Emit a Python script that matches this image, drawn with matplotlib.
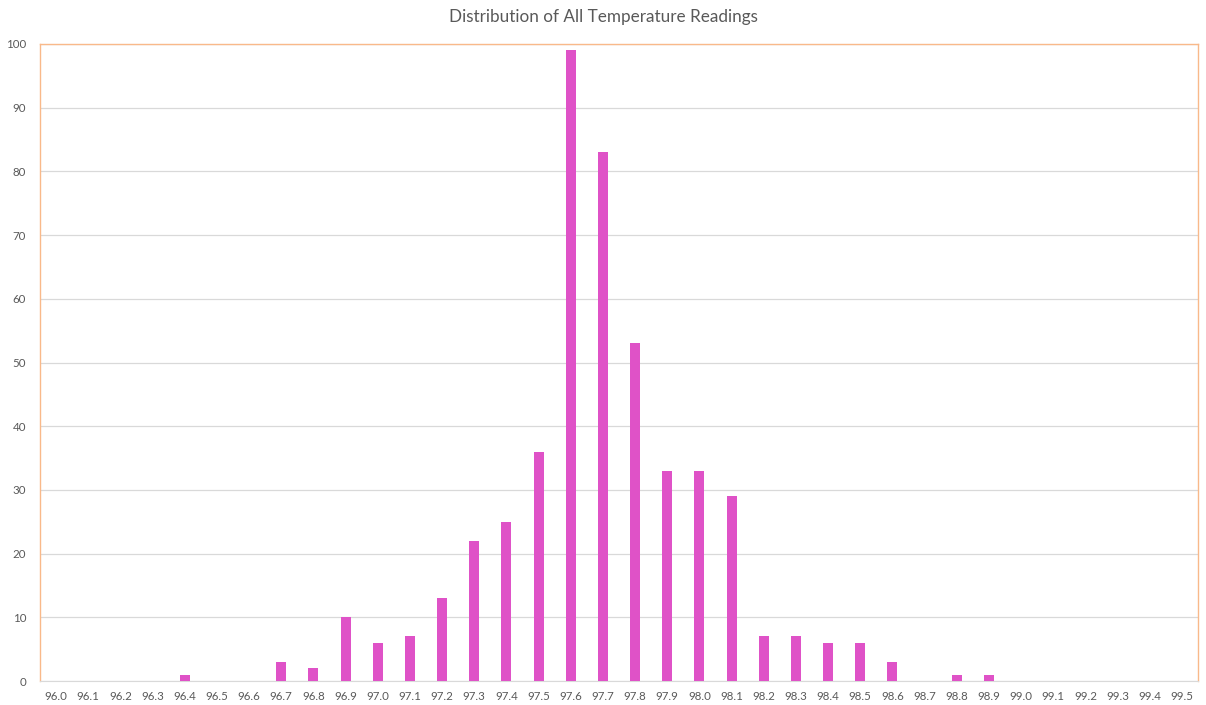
import numpy as np
import matplotlib
matplotlib.use("Agg")
import matplotlib.pyplot as plt

plt.rcParams['font.family'] = ['Lato', 'DejaVu Sans']

temps = ["96.0", "96.1", "96.2", "96.3", "96.4", "96.5", "96.6", "96.7", "96.8", "96.9",
         "97.0", "97.1", "97.2", "97.3", "97.4", "97.5", "97.6", "97.7", "97.8", "97.9",
         "98.0", "98.1", "98.2", "98.3", "98.4", "98.5", "98.6", "98.7", "98.8", "98.9",
         "99.0", "99.1", "99.2", "99.3", "99.4", "99.5"]
counts = [0, 0, 0, 0, 1, 0, 0, 3, 2, 10,
          6, 7, 13, 22, 25, 36, 99, 83, 53, 33,
          33, 29, 7, 7, 6, 6, 3, 0, 1, 1,
          0, 0, 0, 0, 0, 0]
yticks = list(range(0, 101, 10))

bar_color = '#DF52C7'
border = '#F9B98A'
text_col = '#595959'

fig = plt.figure(figsize=(12.06, 7.05), dpi=100)
ax = fig.add_axes([40 / 1206, 1 - 681 / 705, 1158 / 1206, 637 / 705])

x = np.arange(len(temps))
ax.bar(x, counts, width=0.31, color=bar_color, zorder=3)

ax.set_xlim(-0.5, len(temps) - 0.5)
ax.set_ylim(0, 100)
ax.set_yticks(yticks)
ax.set_xticks(x)
ax.set_xticklabels(temps)
ax.grid(axis='y', color='#D9D9D9', linewidth=0.9, zorder=0)
ax.tick_params(length=0, labelsize=8.3, colors=text_col, pad=7)
ax.tick_params(axis='y', pad=10)

for side in ['left', 'top', 'right']:
    ax.spines[side].set_color(border)
    ax.spines[side].set_linewidth(1.0)
ax.spines['bottom'].set_color('#D9D9D9')

fig.text(0.5, 1 - 17 / 705, 'Distribution of All Temperature Readings',
         ha='center', va='center', fontsize=12.3, color=text_col)

fig.savefig('out.png', dpi=100, facecolor='white')
